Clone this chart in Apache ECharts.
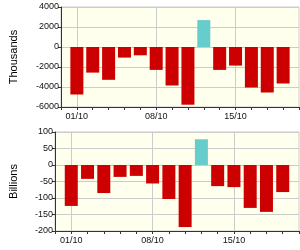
<!DOCTYPE html>
<html><head><meta charset="utf-8">
<script src="https://cdn.jsdelivr.net/npm/echarts@6/dist/echarts.min.js"></script>
<style>html,body{margin:0;padding:0;background:#fff}#c{width:300px;height:250px}</style>
</head><body><div id="c"></div>
<script>
var categories = ['01/10','02/10','03/10','04/10','05/10','08/10','09/10','10/10','11/10','12/10','15/10','16/10','17/10','18/10'];
var tickLabels = ['01/10','08/10','15/10'];
var thousands = [-4750,-2560,-3280,-1060,-830,-2290,-3850,-5770,2690,-2290,-1860,-4050,-4550,-3650];
var billions = [-124,-42,-85,-36,-33,-56,-103,-188,78,-64,-67,-130,-142,-82];

var cats = [''].concat(categories).concat(['']);
function pad(a){ return [null].concat(a).concat([null]); }
function showLab(i, v){ return tickLabels.indexOf(cats[i]) >= 0; }
var FONT = 'Liberation Sans, Arial, sans-serif';
function xAx(gi){
  return {
    type:'category', gridIndex:gi, data:cats, boundaryGap:false,
    axisLine:{onZero:false, lineStyle:{color:'#333', width:1}},
    axisTick:{show:true, length:3, interval:0, lineStyle:{color:'#333'}},
    axisLabel:{interval:showLab, fontSize:9, color:'#111', fontFamily:FONT, margin:5},
    splitLine:{show:true, interval:showLab, lineStyle:{color:'#cccccc', width:1}}
  };
}
function yAx(gi, mn, mx, iv, name, gap){
  return {
    type:'value', gridIndex:gi, min:mn, max:mx, interval:iv,
    name:name, nameLocation:'middle', nameGap:gap, nameRotate:90,
    nameTextStyle:{fontSize:11, color:'#000', fontFamily:FONT},
    axisLine:{show:true, lineStyle:{color:'#333', width:1}},
    axisTick:{show:true, length:3, lineStyle:{color:'#333'}},
    axisLabel:{fontSize:9, color:'#111', fontFamily:FONT, margin:2, formatter:function(v){return String(v);}},
    splitLine:{show:true, lineStyle:{color:'#cccccc', width:1}}
  };
}
function colorFn(p){ return p.value >= 0 ? '#66cccc' : '#cc0000'; }
var chart = echarts.init(document.getElementById('c'), null, {renderer:'canvas'});
chart.setOption({
  animation:false,
  backgroundColor:'#ffffff',
  grid:[
    {left:52, top:7, width:247, height:100, show:true, backgroundColor:'#ffffee', borderColor:'#cccccc', borderWidth:1},
    {left:52, top:132, width:247, height:99, show:true, backgroundColor:'#ffffee', borderColor:'#cccccc', borderWidth:1}
  ],
  xAxis:[xAx(0), xAx(1)],
  yAxis:[yAx(0,-6000,4000,2000,'Thousands',42), yAx(1,-200,100,50,'Billions',36)],
  series:[
    {type:'bar', xAxisIndex:0, yAxisIndex:0, data:pad(thousands), barWidth:13, itemStyle:{color:colorFn}},
    {type:'bar', xAxisIndex:1, yAxisIndex:1, data:pad(billions), barWidth:13, itemStyle:{color:colorFn}}
  ]
});
</script></body></html>
